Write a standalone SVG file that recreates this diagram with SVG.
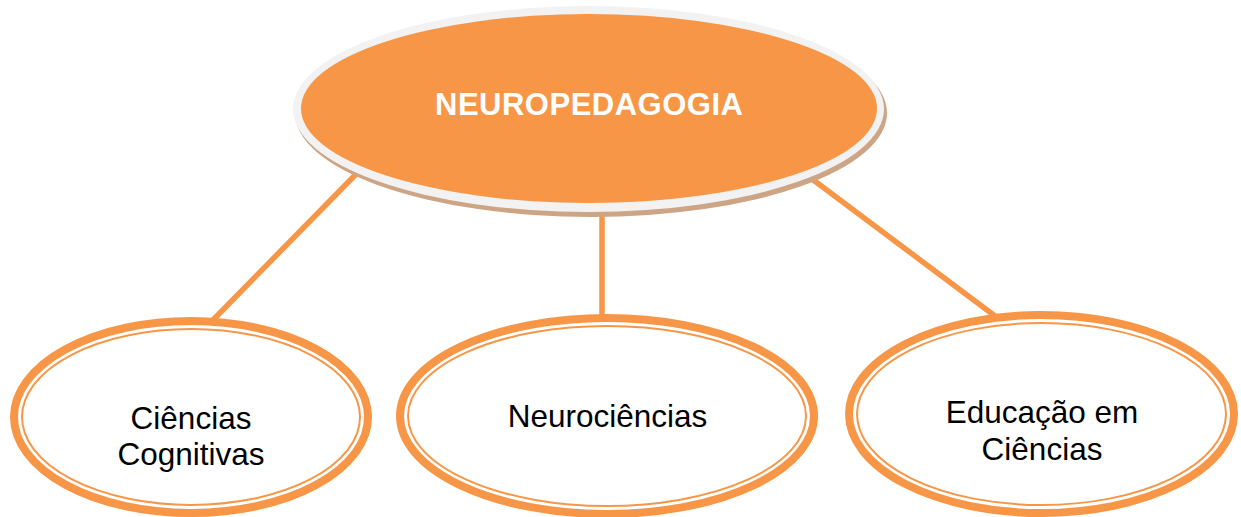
<svg xmlns="http://www.w3.org/2000/svg" width="1241" height="517" viewBox="0 0 1241 517">
<style>
.conn{stroke:#F79646;stroke-width:5.5;stroke-linecap:butt;fill:none}
.outer{fill:#FFFFFF;stroke:#F79646;stroke-width:8}
.inner{fill:none;stroke:#F79646;stroke-width:2}
.lbl{font-family:"Liberation Sans",Arial,sans-serif;font-size:31.5px;fill:#000000;text-anchor:middle}
.title{font-family:"Liberation Sans",Arial,sans-serif;font-size:31px;font-weight:bold;fill:#FFFFFF;text-anchor:middle}
</style>
<rect width="1241" height="517" fill="#FFFFFF"/>
<g id="connectors">
<line class="conn" x1="365" y1="165" x2="213" y2="320"/>
<line class="conn" x1="602" y1="200" x2="602" y2="318"/>
<line class="conn" x1="800" y1="170" x2="995" y2="316"/>
</g>
<g id="node-neuropedagogia">
<ellipse cx="591" cy="113" rx="296" ry="104" fill="#CDA584"/>
<ellipse cx="588.5" cy="109" rx="295.5" ry="103" fill="#F2F2F2"/>
<ellipse cx="589" cy="108.5" rx="288" ry="94.5" fill="#F79646"/>
<text class="title" x="589" y="115" textLength="308" lengthAdjust="spacing">NEUROPEDAGOGIA</text>
</g>
<g id="node-ciencias-cognitivas">
<ellipse class="outer" cx="191" cy="417" rx="177" ry="96"/>
<ellipse class="inner" cx="191" cy="417" rx="169" ry="88"/>
<text class="lbl" x="191" y="429">Ciências</text>
<text class="lbl" x="191" y="465">Cognitivas</text>
</g>
<g id="node-neurociencias">
<ellipse class="outer" cx="607" cy="416" rx="207" ry="98"/>
<ellipse class="inner" cx="607" cy="416" rx="199" ry="90"/>
<text class="lbl" x="607.5" y="427">Neurociências</text>
</g>
<g id="node-educacao-em-ciencias">
<ellipse class="outer" cx="1041.5" cy="414" rx="192.5" ry="99"/>
<ellipse class="inner" cx="1041.5" cy="414" rx="184.5" ry="91"/>
<text class="lbl" x="1042" y="423">Educação em</text>
<text class="lbl" x="1042" y="460">Ciências</text>
</g>
</svg>
